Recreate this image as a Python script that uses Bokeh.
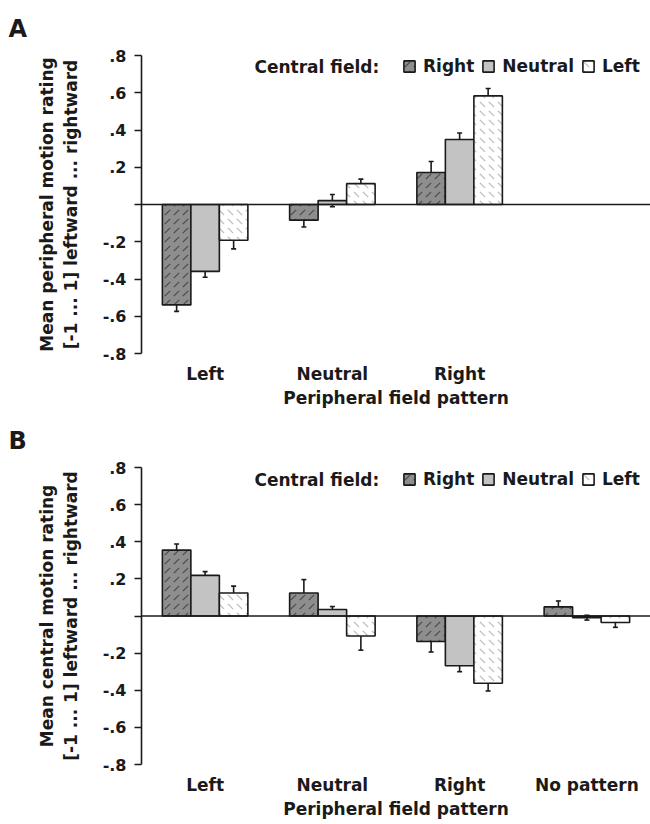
from bokeh.plotting import figure
from bokeh.layouts import column
from bokeh.models import (ColumnDataSource, FactorRange, Range1d, FixedTicker, Whisker,
                          TeeHead, Span, Label, Legend, LegendItem)
from bokeh.transform import dodge
from bokeh.embed import file_html
from bokeh.resources import INLINE

# ---------------- data ----------------
categories = ["Left", "Neutral", "Right", "No pattern"]
series_names = ["Right", "Neutral", "Left"]   # central field

# Panel A: peripheral motion rating (no "No pattern" group; empty slot kept)
a_cats = ["Left", "Neutral", "Right"]
a_factors = ["Left", "Neutral", "Right", " "]
a_right = [-0.539, -0.084, 0.172]
a_neutral = [-0.359, 0.021, 0.349]
a_left = [-0.192, 0.112, 0.583]
a_err_right = [0.035, 0.037, 0.059]
a_err_neutral = [0.032, 0.033, 0.035]
a_err_left = [0.046, 0.024, 0.040]

# Panel B: central motion rating
b_cats = ["Left", "Neutral", "Right", "No pattern"]
b_right = [0.355, 0.124, -0.137, 0.049]
b_neutral = [0.219, 0.035, -0.268, -0.009]
b_left = [0.124, -0.108, -0.362, -0.035]
b_err_right = [0.033, 0.072, 0.057, 0.032]
b_err_neutral = [0.020, 0.016, 0.032, 0.013]
b_err_left = [0.037, 0.076, 0.042, 0.026]

y_ticks = [-0.8, -0.6, -0.4, -0.2, 0.0, 0.2, 0.4, 0.6, 0.8]
y_tick_labels = ["-.8", "-.6", "-.4", "-.2", "", ".2", ".4", ".6", ".8"]

FONT = "DejaVu Sans"
TXT = "#1a1a1a"

styles = {
    "Right": dict(fill_color="#8e8e8e", hatch_pattern="right_diagonal_dash",
                  hatch_color="#4a4a4a", hatch_scale=9, hatch_weight=1.2),
    "Neutral": dict(fill_color="#c3c3c3"),
    "Left": dict(fill_color="#ffffff", hatch_pattern="left_diagonal_dash",
                 hatch_color="#bdbdbd", hatch_scale=9, hatch_weight=1.2),
}
offsets = {"Right": -0.224, "Neutral": 0.0, "Left": 0.224}
BW = 0.224


def make_panel(factors, cats, vals, errs, ylabel, letter, height, top, bottom):
    frame_h = height - top - bottom
    p = figure(x_range=FactorRange(*factors), y_range=Range1d(-0.8, 0.8),
               width=650, height=height,
               min_border_left=141, min_border_right=0,
               min_border_top=top, min_border_bottom=bottom,
               output_backend="svg", toolbar_location=None)
    p.outline_line_color = None
    p.xgrid.grid_line_color = None
    p.ygrid.grid_line_color = None
    p.background_fill_color = "white"
    p.border_fill_color = "white"

    # panel letter as title
    p.title.text = letter
    p.title.align = "left"
    p.title.offset = -133
    p.title.text_font = FONT
    p.title.text_font_style = "bold"
    p.title.text_font_size = "24px"
    p.title.text_color = TXT
    p.title.standoff = 25

    renderers = {}
    for name in series_names:
        v = vals[name]
        e = errs[name]
        src = ColumnDataSource(dict(cat=cats, val=v,
                                    upper=[a + b for a, b in zip(v, e)],
                                    lower=[a - b for a, b in zip(v, e)]))
        r = p.vbar(x=dodge("cat", offsets[name], range=p.x_range), top="val", bottom=0,
                   width=BW, source=src, line_color="#1a1a1a", line_width=1.6,
                   **styles[name])
        renderers[name] = r
        w = Whisker(base=dodge("cat", offsets[name], range=p.x_range),
                    upper="upper", lower="lower", source=src,
                    line_color="#1a1a1a", line_width=1.6,
                    upper_head=TeeHead(size=5, line_color="#1a1a1a", line_width=1.6),
                    lower_head=TeeHead(size=5, line_color="#1a1a1a", line_width=1.6))
        p.add_layout(w)

    p.add_layout(Span(location=0, dimension="width", line_color="#1a1a1a", line_width=1.6))

    # y axis
    yax = p.yaxis[0]
    yax.ticker = FixedTicker(ticks=y_ticks)
    yax.major_label_overrides = {t: l for t, l in zip(y_ticks, y_tick_labels)}
    yax.minor_tick_line_color = None
    yax.major_tick_in = 0
    yax.major_tick_out = 7
    yax.major_tick_line_width = 1.6
    yax.major_tick_line_color = "#1a1a1a"
    yax.axis_line_width = 1.6
    yax.axis_line_color = "#1a1a1a"
    yax.major_label_text_font = FONT
    yax.major_label_text_font_style = "bold"
    yax.major_label_text_font_size = "16px"
    yax.major_label_text_color = TXT
    yax.major_label_standoff = 8
    yax.axis_label = ylabel
    yax.axis_label_text_font = FONT
    yax.axis_label_text_font_style = "bold"
    yax.axis_label_text_font_size = "17px"
    yax.axis_label_text_color = TXT
    yax.axis_label_standoff = 19

    # x axis
    xax = p.xaxis[0]
    xax.axis_line_color = None
    xax.major_tick_line_color = None
    xax.major_tick_out = 0
    xax.major_tick_in = 0
    xax.minor_tick_line_color = None
    xax.major_label_text_font = FONT
    xax.major_label_text_font_style = "bold"
    xax.major_label_text_font_size = "17px"
    xax.major_label_text_color = TXT
    xax.major_label_standoff = 10
    xax.major_label_orientation = "horizontal"
    xax.axis_label = "Peripheral field pattern"
    xax.axis_label_text_font = FONT
    xax.axis_label_text_font_style = "bold"
    xax.axis_label_text_font_size = "17px"
    xax.axis_label_text_color = TXT
    xax.axis_label_standoff = 1

    # legend
    legend = Legend(items=[LegendItem(label=n, renderers=[renderers[n]]) for n in series_names],
                    orientation="horizontal", location=(261, frame_h - 23),
                    glyph_width=14, glyph_height=14, label_standoff=7, spacing=7,
                    padding=0, margin=0, border_line_color=None, background_fill_alpha=0,
                    label_text_font=FONT, label_text_font_style="bold",
                    label_text_font_size="17px", label_text_color=TXT, label_height=20)
    p.add_layout(legend)
    p.add_layout(Label(x=113, y=frame_h - 13, x_units="screen", y_units="screen",
                       text="Central field:", text_font=FONT, text_font_style="bold",
                       text_font_size="17px", text_color=TXT, text_baseline="middle"))
    return p


pA = make_panel(a_factors, a_cats,
                {"Right": a_right, "Neutral": a_neutral, "Left": a_left},
                {"Right": a_err_right, "Neutral": a_err_neutral, "Left": a_err_left},
                "Mean peripheral motion rating\n[-1 ... 1] leftward ... rightward",
                "A", height=412, top=53, bottom=59)
pB = make_panel(categories, b_cats,
                {"Right": b_right, "Neutral": b_neutral, "Left": b_left},
                {"Right": b_err_right, "Neutral": b_err_neutral, "Left": b_err_left},
                "Mean central motion rating\n[-1 ... 1] leftward ... rightward",
                "B", height=412, top=54, bottom=60)

layout = column(pA, pB, spacing=0)
open("out.html", "w").write(file_html(layout, INLINE))
